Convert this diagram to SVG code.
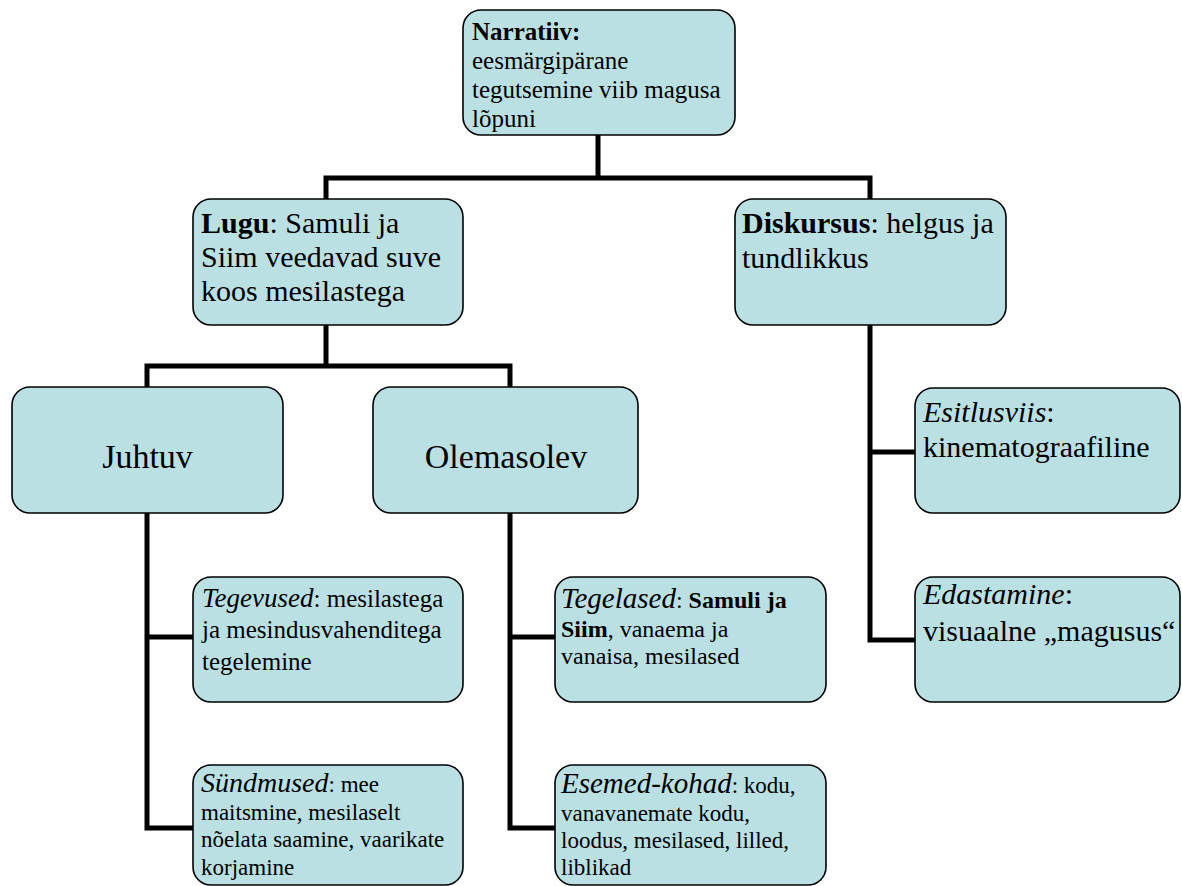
<svg xmlns="http://www.w3.org/2000/svg" width="1182" height="886" viewBox="0 0 1182 886">
<style>
.box{fill:#bbe0e3;stroke:#000;stroke-width:1.6}
.con{fill:none;stroke:#000;stroke-width:5;stroke-linejoin:miter;stroke-linecap:butt}
text{font-family:"Liberation Serif","Times New Roman",serif;fill:#000}
.b{font-weight:bold}
.i{font-style:italic}
</style>
<rect width="1182" height="886" fill="#fff"/>
<g id="connectors">
<path class="con" d="M598,135 V178 M326,199 V178 H870 V199"/>
<path class="con" d="M326,325 V366 M147,387 V366 H510 V387"/>
<path class="con" d="M870,325 V640 H915 M870,452 H915"/>
<path class="con" d="M147,513 V828 H193 M147,637 H193"/>
<path class="con" d="M510,513 V828 H555 M510,637 H555"/>
</g>
<g id="narratiiv">
<rect class="box" x="463" y="10" width="272" height="125" rx="18"/>
<text font-size="25"><tspan x="472" y="40" class="b">Narratiiv:</tspan><tspan x="472" y="69">eesmärgipärane</tspan><tspan x="472" y="98">tegutsemine viib magusa</tspan><tspan x="472" y="127">lõpuni</tspan></text>
</g>
<g id="lugu">
<rect class="box" x="193" y="199" width="270" height="126" rx="18"/>
<text font-size="30"><tspan x="201" y="233"><tspan class="b">Lugu</tspan>: Samuli ja</tspan><tspan x="201" y="267">Siim veedavad suve</tspan><tspan x="201" y="301">koos mesilastega</tspan></text>
</g>
<g id="diskursus">
<rect class="box" x="735" y="199" width="271" height="126" rx="18"/>
<text font-size="30"><tspan x="742" y="233"><tspan class="b">Diskursus</tspan>: helgus ja</tspan><tspan x="742" y="268">tundlikkus</tspan></text>
</g>
<g id="juhtuv">
<rect class="box" x="12" y="387" width="271" height="126" rx="18"/>
<text font-size="34" x="147.5" y="468" text-anchor="middle">Juhtuv</text>
</g>
<g id="olemasolev">
<rect class="box" x="373" y="387" width="265" height="126" rx="18"/>
<text font-size="34" x="506" y="468" text-anchor="middle">Olemasolev</text>
</g>
<g id="esitlusviis">
<rect class="box" x="915" y="388" width="265" height="125" rx="18"/>
<text font-size="30"><tspan x="923" y="422"><tspan class="i">Esitlusviis</tspan>:</tspan><tspan x="923" y="457">kinematograafiline</tspan></text>
</g>
<g id="tegevused">
<rect class="box" x="193" y="577" width="270" height="125" rx="18"/>
<text font-size="25"><tspan x="202" y="607"><tspan class="i" font-size="27">Tegevused</tspan>: mesilastega</tspan><tspan x="202" y="638">ja mesindusvahenditega</tspan><tspan x="202" y="670">tegelemine</tspan></text>
</g>
<g id="tegelased">
<rect class="box" x="555" y="577" width="271" height="125" rx="18"/>
<text font-size="24"><tspan x="561" y="608"><tspan class="i" font-size="29">Tegelased</tspan>: <tspan class="b">Samuli ja</tspan></tspan><tspan x="561" y="637"><tspan class="b">Siim</tspan>, vanaema ja</tspan><tspan x="561" y="664">vanaisa, mesilased</tspan></text>
</g>
<g id="edastamine">
<rect class="box" x="915" y="577" width="265" height="125" rx="18"/>
<text font-size="30"><tspan x="923" y="604"><tspan class="i">Edastamine</tspan>:</tspan><tspan x="923" y="641">visuaalne „magusus“</tspan></text>
</g>
<g id="sundmused">
<rect class="box" x="193" y="765" width="270" height="120" rx="18"/>
<text font-size="23"><tspan x="201" y="792"><tspan class="i" font-size="28">Sündmused</tspan>: mee</tspan><tspan x="201" y="820">maitsmine, mesilaselt</tspan><tspan x="201" y="847">nõelata saamine, vaarikate</tspan><tspan x="201" y="875">korjamine</tspan></text>
</g>
<g id="esemed">
<rect class="box" x="555" y="765" width="271" height="120" rx="18"/>
<text font-size="23"><tspan x="561" y="793"><tspan class="i" font-size="29">Esemed-kohad</tspan>: kodu,</tspan><tspan x="561" y="821">vanavanemate kodu,</tspan><tspan x="561" y="848">loodus, mesilased, lilled,</tspan><tspan x="561" y="875">liblikad</tspan></text>
</g>
</svg>
